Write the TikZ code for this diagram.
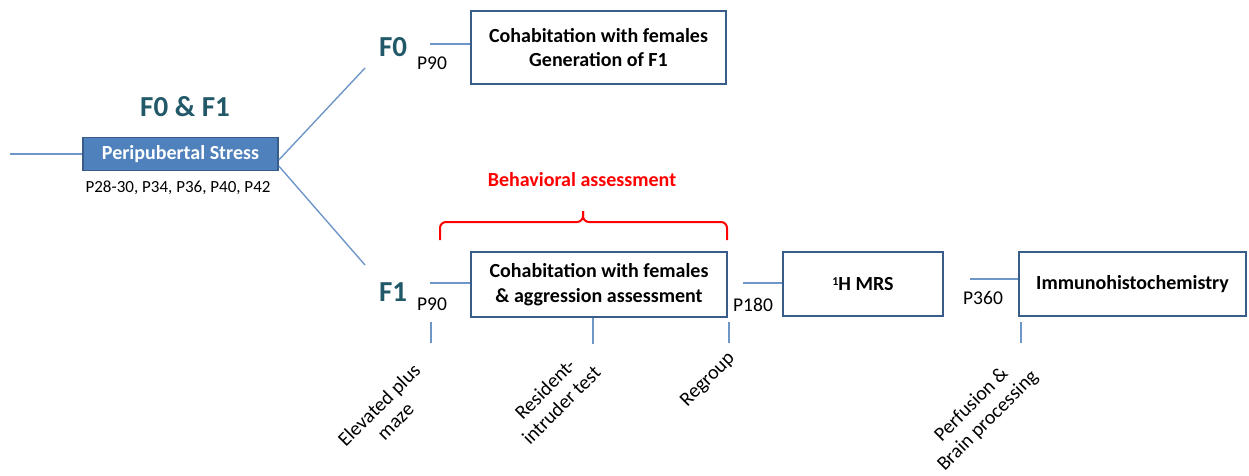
\documentclass[tikz,border=0pt]{standalone}
\usepackage{fontspec}
\setmainfont{Carlito}
\usetikzlibrary{calc}
\definecolor{boxblue}{HTML}{385D8A}
\definecolor{fillblue}{HTML}{4F81BD}
\definecolor{lineblue}{HTML}{6F96C8}
\definecolor{teal}{HTML}{215968}
\tikzset{
  stagebox/.style={draw=boxblue, line width=2.6pt, fill=white, inner sep=0pt, align=center,
    font=\fontsize{20}{24.4}\selectfont\bfseries},
  conn/.style={draw=lineblue, line width=1.4pt},
  plabel/.style={inner sep=0pt, font=\fontsize{19.5}{23}\selectfont},
  gen/.style={inner sep=0pt, text=teal, font=\fontsize{29}{34}\selectfont\bfseries},
  rotlabel/.style={inner sep=0pt, rotate=45, align=center, font=\fontsize{20}{23}\selectfont},
  bracket/.style={draw=red, line width=2pt, rounded corners=6pt},
}
\begin{document}
\begin{tikzpicture}[x=1pt, y=-1pt]
\useasboundingbox (0,0) rectangle (1249,476);

% main nodes
\node[draw=boxblue, fill=fillblue, line width=1.6pt, minimum width=195pt, minimum height=33pt,
      inner sep=0pt, text=white, font=\fontsize{20}{24}\selectfont\bfseries] (ps) at (180.5,154) {Peripubertal Stress};
\node[stagebox, minimum width=255pt, minimum height=73pt] (f0box) at (598.5,47.5) {Cohabitation with females\\Generation of F1};
\node[stagebox, minimum width=256pt, minimum height=65pt] (f1box) at (599,284.5) {Cohabitation with females\\\& aggression assessment};
\node[stagebox, minimum width=160pt, minimum height=64pt] (mrs) at (863,284) {\raisebox{5.5pt}{\fontsize{12}{12}\selectfont 1}H MRS};
\node[stagebox, minimum width=227pt, minimum height=64pt] (ihc) at (1132.5,284) {Immunohistochemistry};

% labels
\node[gen] (t01) at (185,107) {F0 \& F1};
\node[plabel, font=\fontsize{17}{20}\selectfont] (days) at (178,188) {P28-30, P34, P36, P40, P42};
\node[gen] (f0) at (393,47) {F0};
\node[plabel] (p90a) at (432,63) {P90};
\node[gen] (f1) at (393,292) {F1};
\node[plabel] (p90b) at (432,304) {P90};
\node[plabel] (p180) at (753,305) {P180};
\node[plabel] (p360) at (983,298) {P360};
\node[inner sep=0pt, text=red, font=\fontsize{20}{24}\selectfont\bfseries] (beh) at (582,180) {Behavioral assessment};

% rotated labels
\node[rotlabel] (epm) at (387,413) {Elevated plus\\maze};
\node[rotlabel] (rit) at (553,397) {Resident-\\intruder test};
\node[rotlabel] (reg) at (708,380) {Regroup};
\node[rotlabel] (perf) at (980,413) {Perfusion \&\\Brain processing};

% coordinates for free ends
\coordinate (start) at (10,154);
\coordinate (f0end) at (365,68);
\coordinate (f1end) at (365,265);
\coordinate (f0l) at (430,44);
\coordinate (f1l) at (430,283);
\coordinate (mrsl) at (743,283);
\coordinate (ihcl) at (970,279);

% connectors
\draw[conn] (start) -- (ps.west);
\draw[conn] ([yshift=-6pt]ps.east) -- (f0end);
\draw[conn] ([yshift=-12pt]ps.east) -- (f1end);
\draw[conn] (f0l) -- (f0l -| f0box.west);
\draw[conn] (f1l) -- (f1l -| f1box.west);
\draw[conn] (mrsl) -- (mrsl -| mrs.west);
\draw[conn] (ihcl) -- (ihcl -| ihc.west);

% ticks
\coordinate (tk1) at (431,322);
\coordinate (tk3) at (729,322);
\coordinate (tk4) at (1021,322);
\draw[conn] (tk1) -- ++(0,21);
\draw[conn] ($(f1box.south)+(-6,0)$) -- ++(0,26);
\draw[conn] (tk3) -- ++(0,21);
\draw[conn] (tk4) -- ++(0,21);

% bracket
\coordinate (bl) at (440,240);
\coordinate (br) at (727,240);
\coordinate (tip) at (583,211);
\draw[bracket] (bl) |- (583,222) -- (tip);
\draw[bracket] (br) |- (583,222) -- (tip);
\end{tikzpicture}
\end{document}
